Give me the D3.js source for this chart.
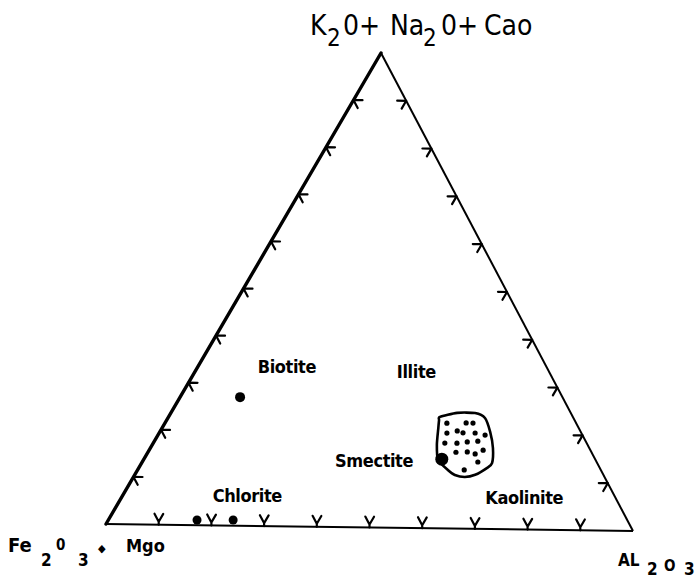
<!DOCTYPE html>
<html>
<head>
<meta charset="utf-8">
<script src="https://cdn.jsdelivr.net/npm/d3@7/dist/d3.min.js"></script>
<style>
  html, body { margin: 0; padding: 0; background: #fff; }
  svg { display: block; }
  text { fill: #000; }
</style>
</head>
<body>
<script>
// Compositions in percent: [K2O+Na2O+CaO, Al2O3]; Fe2O3+MgO is the remainder.
const biotitePoints = [[27.1, 11.3]];
const chloritePoints = [[1.1, 16.7], [1.2, 23.5]];
const smectitePoints = [[14.6, 56.1]];
const clayPoints = [
  [22.2, 53.1], [22.3, 56.7], [22.3, 58.0],
  [20.1, 54.2], [20.6, 55.9], [20.2, 57.2], [20.2, 59.5], [19.8, 61.6],
  [18.0, 54.9], [18.0, 57.2], [18.3, 59.0], [18.5, 60.9],
  [16.1, 58.0], [16.2, 60.1], [15.8, 61.8], [16.6, 62.9],
  [14.1, 63.2], [12.4, 61.5]
];
const clayOutline = [
  [23.5, 51.1], [24.4, 53.9], [24.4, 57.3], [23.4, 59.7], [20.5, 62.2],
  [17.1, 64.5], [13.9, 66.0], [12.9, 65.6], [11.4, 64.1], [10.9, 62.4],
  [11.3, 60.3], [12.3, 58.5], [14.4, 55.5], [17.6, 53.6], [21.2, 52.0],
  [22.8, 51.3]
];
const fieldNames = ["Biotite", "Illite", "Smectite", "Chlorite", "Kaolinite"];
const fieldAnchors = [[32.2, 12.0], [31.6, 38.7], [12.6, 36.9], [4.9, 17.7], [5.3, 69.2]];
const tickValues = [10, 20, 30, 40, 50, 60, 70, 80, 90];

const W = 700, H = 578;
const svg = d3.select("body").append("svg").attr("width", W).attr("height", H);

// Triangle corners (page layout): apex = K2O+Na2O+CaO, left = Fe2O3+MgO, right = Al2O3
const apex = [381, 53], leftCorner = [106, 524], rightCorner = [633, 531];

// Linear scales turn each percentage into a displacement from the left corner
const aX = d3.scaleLinear().domain([0, 100]).range([0, apex[0] - leftCorner[0]]);
const aY = d3.scaleLinear().domain([0, 100]).range([0, apex[1] - leftCorner[1]]);
const lX = d3.scaleLinear().domain([0, 100]).range([0, rightCorner[0] - leftCorner[0]]);
const lY = d3.scaleLinear().domain([0, 100]).range([0, rightCorner[1] - leftCorner[1]]);
const project = ([a, l]) => [leftCorner[0] + aX(a) + lX(l), leftCorner[1] + aY(a) + lY(l)];

// Frame: left side drawn heavier
const frame = svg.append("g").attr("stroke", "#000");
frame.append("line").attr("x1", leftCorner[0]).attr("y1", leftCorner[1]).attr("x2", apex[0]).attr("y2", apex[1])
  .attr("stroke-width", 3.4).attr("stroke-linecap", "round");
frame.append("line").attr("x1", apex[0]).attr("y1", apex[1]).attr("x2", rightCorner[0]).attr("y2", rightCorner[1])
  .attr("stroke-width", 2);
frame.append("line").attr("x1", leftCorner[0]).attr("y1", leftCorner[1]).attr("x2", rightCorner[0]).attr("y2", rightCorner[1])
  .attr("stroke-width", 2);

// Tick marks: two short arms along the grid directions pointing into the triangle
const unit = (p, q) => { const dx = q[0] - p[0], dy = q[1] - p[1], n = Math.hypot(dx, dy); return [dx / n, dy / n]; };
const armLen = 9;
const tickPath = (p, d1, d2, stem) => {
  let base = p;
  let s = "";
  if (stem) {
    base = [p[0] + stem[0], p[1] + stem[1]];
    s += `M${p[0]},${p[1]}L${base[0]},${base[1]}`;
  }
  return s + `M${base[0] + d1[0] * armLen},${base[1] + d1[1] * armLen}L${base[0]},${base[1]}` +
    `L${base[0] + d2[0] * armLen},${base[1] + d2[1] * armLen}`;
};
const ticks = svg.append("g").attr("fill", "none").attr("stroke", "#000")
  .attr("stroke-width", 2.2).attr("stroke-linecap", "round").attr("stroke-linejoin", "round");
// left side (Al2O3 = 0)
ticks.append("g").selectAll("path").data(tickValues).join("path")
  .attr("d", v => tickPath(project([v, 0]), unit(leftCorner, rightCorner), unit(apex, rightCorner)));
// right side (Fe2O3+MgO = 0)
ticks.append("g").selectAll("path").data(tickValues).join("path")
  .attr("d", v => tickPath(project([v, 100 - v]), unit(rightCorner, leftCorner), unit(apex, leftCorner)));
// base (K2O+Na2O+CaO = 0)
const upBase = [0, -3];
ticks.append("g").selectAll("path").data(tickValues).join("path")
  .attr("d", v => tickPath(project([0, v]), unit(rightCorner, apex), unit(leftCorner, apex), upBase));

// Clay cluster outline
svg.append("path").datum(clayOutline.map(project))
  .attr("d", d3.line().curve(d3.curveCardinalClosed.tension(0.3)))
  .attr("fill", "none").attr("stroke", "#000").attr("stroke-width", 2.6);

// Sample points
const dots = svg.append("g").attr("fill", "#000");
const plotDots = (data, r) => dots.append("g").selectAll("circle").data(data).join("circle")
  .attr("cx", d => project(d)[0]).attr("cy", d => project(d)[1]).attr("r", r);
plotDots(clayPoints, 2.6);
plotDots(smectitePoints, 6.5);
plotDots(biotitePoints, 5);
plotDots(chloritePoints, 4.5);

// Mineral field names
const labelFont = "'DejaVu Sans Condensed', 'DejaVu Sans', sans-serif";
svg.append("g").selectAll("text").data(fieldNames).join("text")
  .attr("x", (d, i) => project(fieldAnchors[i])[0])
  .attr("y", (d, i) => project(fieldAnchors[i])[1])
  .attr("font-family", labelFont).attr("font-weight", "bold").attr("font-size", 18)
  .attr("letter-spacing", -0.4)
  .text(d => d);

// Corner titles
const apexTitle = svg.append("text").attr("font-family", labelFont).attr("font-size", 28);
[["K", 310, 35, 28], ["2", 327, 46, 24], ["0+", 343, 35, 28], ["Na", 390, 35, 28],
 ["2", 423, 46, 24], ["0+", 441, 35, 28], ["Cao", 484, 35, 28]].forEach(([t, x, y, s]) =>
  apexTitle.append("tspan").attr("x", x).attr("y", y).attr("font-size", s).text(t));

const leftTitle = svg.append("text").attr("font-family", labelFont).attr("font-weight", "bold");
[["Fe", 8, 552, 20], ["2", 41, 566, 17], ["0", 56, 550, 15], ["3", 78, 566, 17],
 ["◆", 98, 552, 11], ["Mgo", 126, 552, 18]].forEach(([t, x, y, s]) =>
  leftTitle.append("tspan").attr("x", x).attr("y", y).attr("font-size", s).text(t));

const rightTitle = svg.append("text").attr("font-family", labelFont).attr("font-weight", "bold");
[["AL", 618, 566, 17], ["2", 647, 575, 17], ["O", 664, 571, 15], ["3", 684, 575, 17]].forEach(([t, x, y, s]) =>
  rightTitle.append("tspan").attr("x", x).attr("y", y).attr("font-size", s).text(t));
</script>
</body>
</html>
